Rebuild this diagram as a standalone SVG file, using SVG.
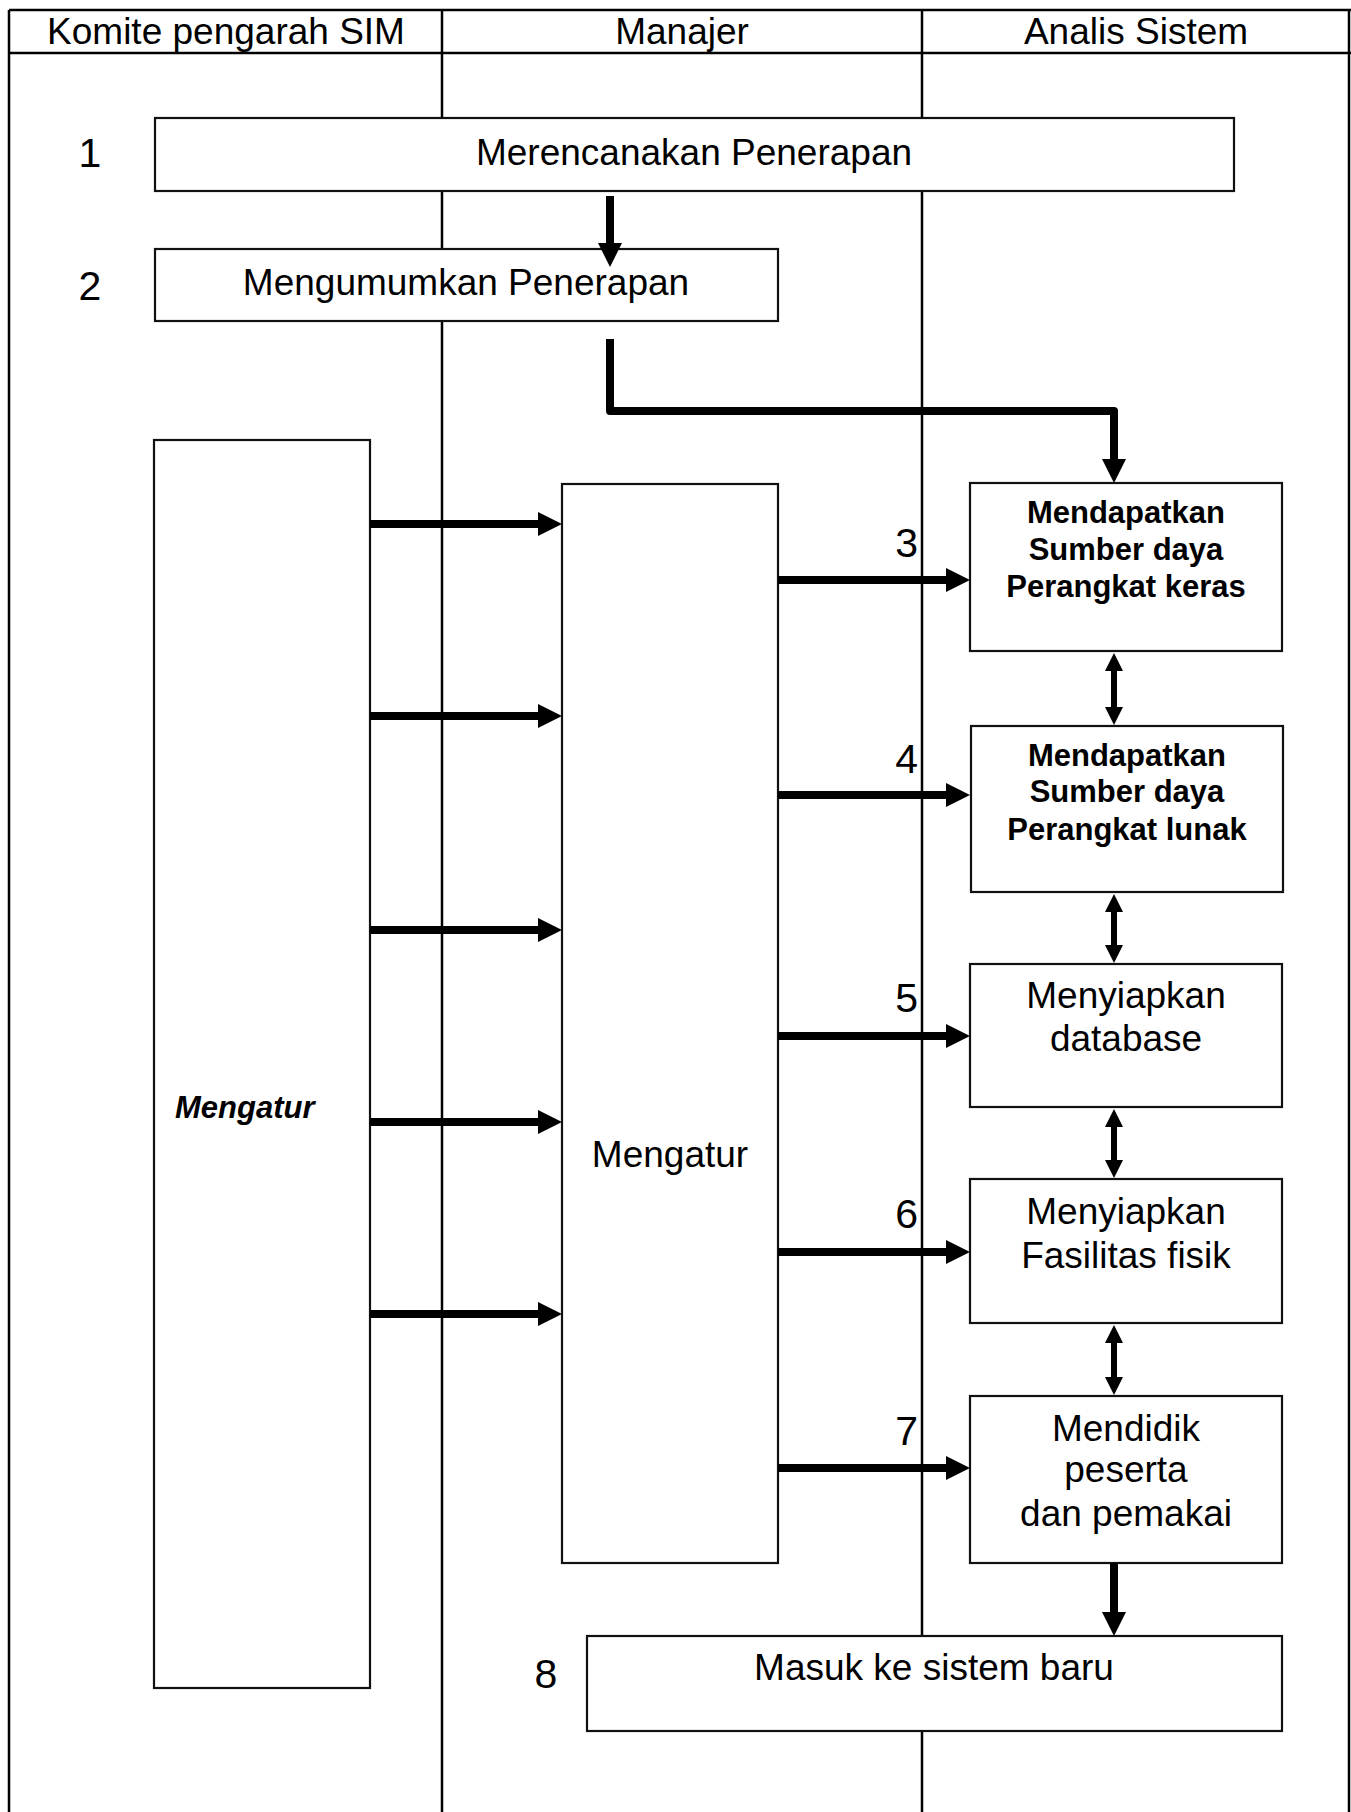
<svg xmlns="http://www.w3.org/2000/svg" width="1351" height="1812" viewBox="0 0 1351 1812">
  <style>
    .lane { stroke: #000; stroke-width: 2.5; fill: none; }
    .box { fill: #fff; stroke: #111; stroke-width: 2.2; }
    .t { font-family: "Liberation Sans", Arial, sans-serif; font-size: 37px; fill: #000; }
    .n { font-size: 41px; }
    .c { text-anchor: middle; }
    .e { text-anchor: end; }
    .b { font-size: 31px; font-weight: bold; }
    .bi { font-size: 31px; font-weight: bold; font-style: italic; }
    .flow { stroke: #000; stroke-width: 8; fill: none; stroke-linejoin: round; }
    .link { stroke: #000; stroke-width: 6; fill: none; }
  </style>
  <defs>
    <marker id="head" markerUnits="userSpaceOnUse" viewBox="0 0 24 24" markerWidth="24" markerHeight="24" refX="1" refY="12" orient="auto">
      <path d="M0,0 L24,12 L0,24 Z" fill="#000"/>
    </marker>
    <marker id="headS" markerUnits="userSpaceOnUse" viewBox="0 0 18 18" markerWidth="18" markerHeight="18" refX="1" refY="9" orient="auto">
      <path d="M0,0 L18,9 L0,18 Z" fill="#000"/>
    </marker>
    <marker id="headSStart" markerUnits="userSpaceOnUse" viewBox="0 0 18 18" markerWidth="18" markerHeight="18" refX="17" refY="9" orient="auto">
      <path d="M18,0 L0,9 L18,18 Z" fill="#000"/>
    </marker>
  </defs>

  <rect width="1351" height="1812" fill="#fff"/>

  <!-- swimlane frame -->
  <g id="lanes">
    <line class="lane" x1="9" y1="10" x2="1351" y2="10"/>
    <line class="lane" x1="9" y1="53" x2="1351" y2="53"/>
    <line class="lane" x1="9" y1="10" x2="9" y2="1812"/>
    <line class="lane" x1="1349" y1="10" x2="1349" y2="1812"/>
    <line class="lane" x1="442" y1="10" x2="442" y2="1812" stroke-width="2"/>
    <line class="lane" x1="922" y1="10" x2="922" y2="1812" stroke-width="2"/>
    <text class="t c" x="226" y="44">Komite pengarah SIM</text>
    <text class="t c" x="682" y="44">Manajer</text>
    <text class="t c" x="1136" y="44">Analis Sistem</text>
  </g>

  <!-- step numbers -->
  <g id="numbers">
    <text class="t n c" x="90" y="167">1</text>
    <text class="t n c" x="90" y="300">2</text>
    <text class="t n e" x="918" y="557">3</text>
    <text class="t n e" x="918" y="773">4</text>
    <text class="t n e" x="918" y="1012">5</text>
    <text class="t n e" x="918" y="1228">6</text>
    <text class="t n e" x="918" y="1445">7</text>
    <text class="t n c" x="546" y="1688">8</text>
  </g>

  <g id="plan">
    <rect class="box" x="155" y="118" width="1079" height="73"/>
    <text class="t c" x="694" y="165">Merencanakan Penerapan</text>
  </g>

  <g id="announce">
    <rect class="box" x="155" y="249" width="623" height="72"/>
    <text class="t c" x="466" y="295">Mengumumkan Penerapan</text>
  </g>

  <g id="committee-manage">
    <rect class="box" x="154" y="440" width="216" height="1248"/>
    <text class="t bi" x="175" y="1118">Mengatur</text>
  </g>

  <g id="manager-manage">
    <rect class="box" x="562" y="484" width="216" height="1079"/>
    <text class="t c" x="670" y="1167">Mengatur</text>
  </g>

  <g id="hardware">
    <rect class="box" x="970" y="483" width="312" height="168"/>
    <text class="t c b" x="1126" y="523">Mendapatkan</text>
    <text class="t c b" x="1126" y="560">Sumber daya</text>
    <text class="t c b" x="1126" y="597">Perangkat keras</text>
  </g>

  <g id="software">
    <rect class="box" x="971" y="726" width="312" height="166"/>
    <text class="t c b" x="1127" y="766">Mendapatkan</text>
    <text class="t c b" x="1127" y="802">Sumber daya</text>
    <text class="t c b" x="1127" y="840">Perangkat lunak</text>
  </g>

  <g id="database">
    <rect class="box" x="970" y="964" width="312" height="143"/>
    <text class="t c" x="1126" y="1008">Menyiapkan</text>
    <text class="t c" x="1126" y="1051">database</text>
  </g>

  <g id="facilities">
    <rect class="box" x="970" y="1179" width="312" height="144"/>
    <text class="t c" x="1126" y="1224">Menyiapkan</text>
    <text class="t c" x="1126" y="1268">Fasilitas fisik</text>
  </g>

  <g id="education">
    <rect class="box" x="970" y="1396" width="312" height="167"/>
    <text class="t c" x="1126" y="1441">Mendidik</text>
    <text class="t c" x="1126" y="1482">peserta</text>
    <text class="t c" x="1126" y="1526">dan pemakai</text>
  </g>

  <g id="cutover">
    <rect class="box" x="587" y="1636" width="695" height="95"/>
    <text class="t c" x="934" y="1680">Masuk ke sistem baru</text>
  </g>

  <!-- connectors -->
  <g id="connectors">
    <line class="flow" x1="610" y1="196" x2="610" y2="244" marker-end="url(#head)"/>
    <path class="flow" d="M610,339 V411 H1114 V460" marker-end="url(#head)"/>

    <line class="flow" x1="370" y1="524" x2="539" y2="524" marker-end="url(#head)"/>
    <line class="flow" x1="370" y1="716" x2="539" y2="716" marker-end="url(#head)"/>
    <line class="flow" x1="370" y1="930" x2="539" y2="930" marker-end="url(#head)"/>
    <line class="flow" x1="370" y1="1122" x2="539" y2="1122" marker-end="url(#head)"/>
    <line class="flow" x1="370" y1="1314" x2="539" y2="1314" marker-end="url(#head)"/>

    <line class="flow" x1="778" y1="580" x2="947" y2="580" marker-end="url(#head)"/>
    <line class="flow" x1="778" y1="795" x2="947" y2="795" marker-end="url(#head)"/>
    <line class="flow" x1="778" y1="1036" x2="947" y2="1036" marker-end="url(#head)"/>
    <line class="flow" x1="778" y1="1252" x2="947" y2="1252" marker-end="url(#head)"/>
    <line class="flow" x1="778" y1="1468" x2="947" y2="1468" marker-end="url(#head)"/>

    <line class="link" x1="1114" y1="670" x2="1114" y2="708" marker-start="url(#headSStart)" marker-end="url(#headS)"/>
    <line class="link" x1="1114" y1="911" x2="1114" y2="946" marker-start="url(#headSStart)" marker-end="url(#headS)"/>
    <line class="link" x1="1114" y1="1126" x2="1114" y2="1161" marker-start="url(#headSStart)" marker-end="url(#headS)"/>
    <line class="link" x1="1114" y1="1342" x2="1114" y2="1378" marker-start="url(#headSStart)" marker-end="url(#headS)"/>

    <line class="flow" x1="1114" y1="1563" x2="1114" y2="1613" marker-end="url(#head)"/>
  </g>
</svg>
